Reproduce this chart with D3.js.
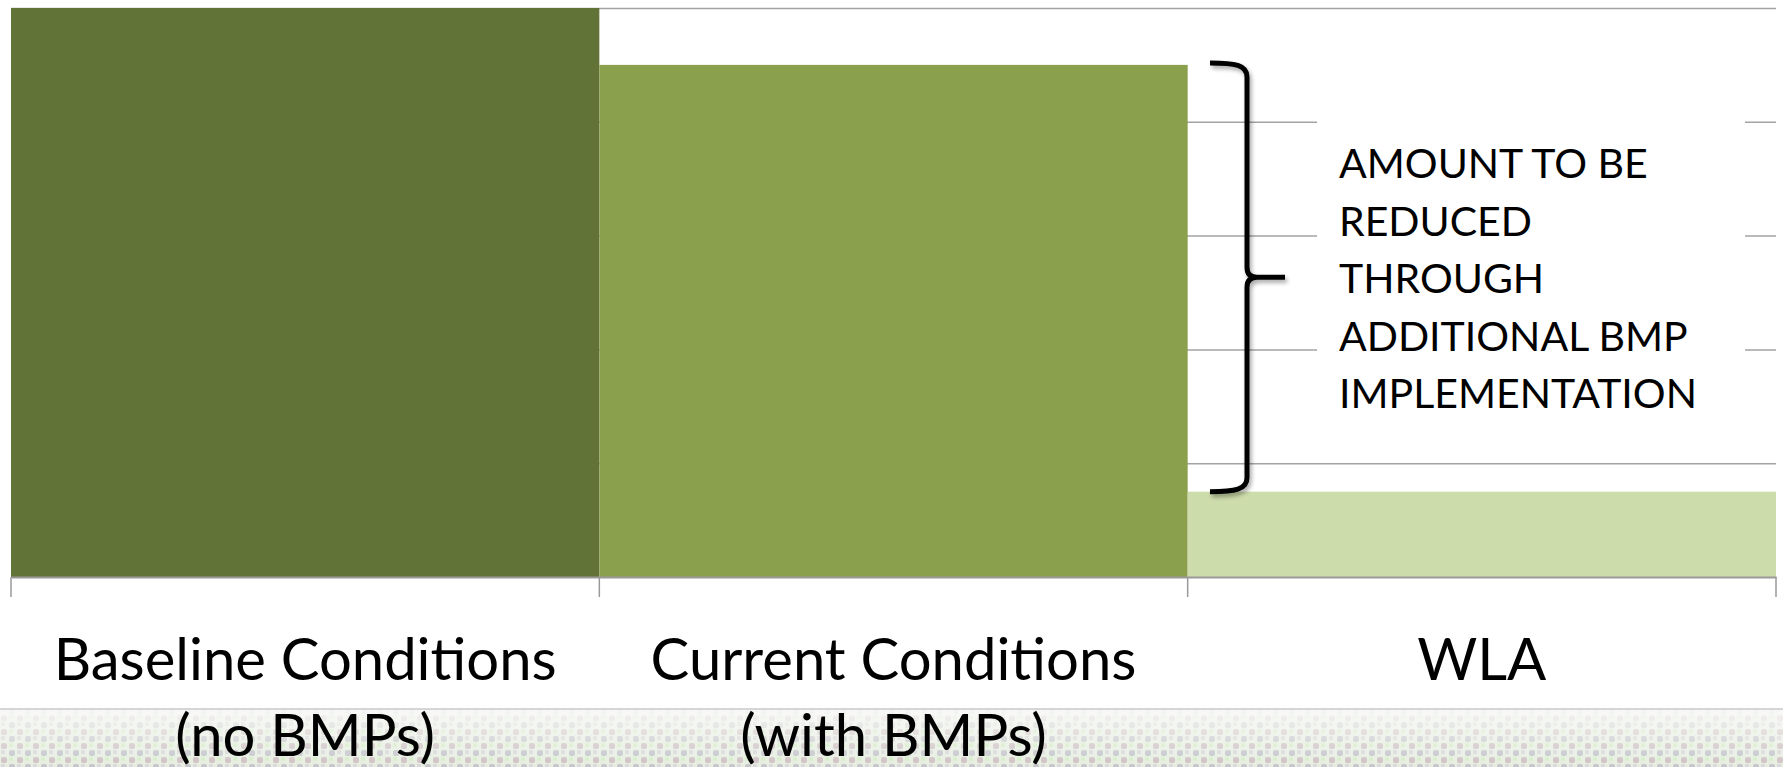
<!DOCTYPE html>
<html>
<head>
<meta charset="utf-8">
<script src="https://cdn.jsdelivr.net/npm/d3@7"></script>
<style>
  html, body { margin: 0; padding: 0; background: #ffffff; }
  svg { display: block; }
</style>
</head>
<body>
<div id="chart"></div>
<script>
// dados do grafico
const categories = ["Baseline", "Current", "WLA"];
const categoryLines = [
    ["Baseline Conditions", "(no BMPs)"],
    ["Current Conditions", "(with BMPs)"],
    ["WLA"]
];
const loads = [5, 4.5, 0.75];
const yTicks = [1, 2, 3, 4, 5];
const noteLines = ["AMOUNT TO BE", "REDUCED", "THROUGH", "ADDITIONAL BMP", "IMPLEMENTATION"];

const width = 1783, height = 767;
const margin = {left: 11, right: 7, top: 8, bottom: 190};
const fontFam = "Lato, 'Open Sans', sans-serif";

const svg = d3.select("#chart").append("svg")
    .attr("width", width)
    .attr("height", height);

const defs = svg.append("defs");

// fundo do slide (faixa com textura embaixo)
let grad = defs.append("linearGradient").attr("id", "stripGrad")
    .attr("x1", 0).attr("y1", 0).attr("x2", 0).attr("y2", 1);
grad.append("stop").attr("offset", "0%").attr("stop-color", "#f9f9f8");
grad.append("stop").attr("offset", "100%").attr("stop-color", "#e6eee0");

let fade = defs.append("linearGradient").attr("id", "fadeGrad")
    .attr("x1", 0).attr("y1", 0).attr("x2", 0).attr("y2", 1);
fade.append("stop").attr("offset", "0%").attr("stop-color", "#fff").attr("stop-opacity", 0.05);
fade.append("stop").attr("offset", "100%").attr("stop-color", "#fff").attr("stop-opacity", 1);
defs.append("mask").attr("id", "fadeMask")
    .attr("maskContentUnits", "objectBoundingBox")
    .append("rect").attr("width", 1).attr("height", 1).attr("fill", "url(#fadeGrad)");

let pat = defs.append("pattern").attr("id", "dots")
    .attr("patternUnits", "userSpaceOnUse")
    .attr("width", 16).attr("height", 14);
pat.append("rect").attr("x", 1).attr("y", 1).attr("width", 6).attr("height", 6).attr("rx", 2)
    .attr("fill", "#c9b0bc");
pat.append("rect").attr("x", 9).attr("y", 8).attr("width", 6).attr("height", 6).attr("rx", 2)
    .attr("fill", "#b9b7c4");
pat.append("rect").attr("x", 9).attr("y", 1).attr("width", 4).attr("height", 4)
    .attr("fill", "#cfeec0");
pat.append("rect").attr("x", 1).attr("y", 8).attr("width", 4).attr("height", 4)
    .attr("fill", "#d8d0dc");

let stripY = 709;
svg.append("rect")
    .attr("x", 0).attr("y", stripY).attr("width", width).attr("height", height - stripY)
    .attr("fill", "url(#stripGrad)");
svg.append("rect")
    .attr("x", 0).attr("y", stripY).attr("width", width).attr("height", height - stripY)
    .attr("fill", "url(#dots)")
    .attr("opacity", 0.75)
    .attr("mask", "url(#fadeMask)");
svg.append("line")
    .attr("x1", 0).attr("x2", width).attr("y1", stripY).attr("y2", stripY)
    .attr("stroke", "#c8c8c8").attr("stroke-width", 1.5);

// escalas
const x = d3.scaleBand()
    .domain(categories)
    .range([margin.left, width - margin.right])
    .padding(0);

const y = d3.scaleLinear()
    .domain([0, d3.max(yTicks)])
    .range([height - margin.bottom, margin.top]);

const color = d3.scaleOrdinal()
    .domain(categories)
    .range(["#617336", "#8aa04d", "#cddcab"]);

// linhas de grade
svg.append("g")
    .attr("class", "grid")
    .attr("transform", `translate(${margin.left},0)`)
    .call(d3.axisLeft(y).tickValues(yTicks).tickSize(-(width - margin.left - margin.right)).tickFormat(""))
    .call(g => g.select(".domain").remove())
    .call(g => g.selectAll("line").attr("stroke", "#a3a3a3").attr("stroke-width", 1.5));

// barras
svg.append("g")
    .selectAll("rect")
    .data(loads)
    .join("rect")
    .attr("x", (d, i) => x(categories[i]))
    .attr("y", d => y(d))
    .attr("width", x.bandwidth())
    .attr("height", d => y(0) - y(d))
    .attr("fill", (d, i) => color(categories[i]));

// eixo x
const xAxis = svg.append("g")
    .attr("transform", `translate(0,${y(0)})`)
    .call(d3.axisBottom(x).tickSize(0).tickFormat(""));
xAxis.select(".domain").attr("stroke", "#9a9a9a").attr("stroke-width", 2);

// marcas entre categorias
let bounds = categories.map(c => x(c)).concat([x(categories[categories.length - 1]) + x.bandwidth()]);
svg.append("g")
    .selectAll("line")
    .data(bounds)
    .join("line")
    .attr("x1", d => d).attr("x2", d => d)
    .attr("y1", y(0)).attr("y2", y(0) + 20)
    .attr("stroke", "#9a9a9a").attr("stroke-width", 1.5);

// rotulos das categorias
svg.append("g")
    .selectAll("text")
    .data(categoryLines)
    .join("text")
    .attr("x", (d, i) => x(categories[i]) + x.bandwidth() / 2)
    .attr("y", 680)
    .attr("text-anchor", "middle")
    .style("font-family", fontFam)
    .style("font-size", "58px")
    .attr("fill", "#000")
    .selectAll("tspan")
    .data(d => d)
    .join("tspan")
    .attr("x", function() { return this.parentNode.getAttribute("x"); })
    .attr("dy", (d, j) => j == 0 ? 0 : 76)
    .text(d => d);

// caixa branca do texto (corta as linhas de grade)
svg.append("rect")
    .attr("x", 1317).attr("y", 100)
    .attr("width", 428).attr("height", 340)
    .attr("fill", "#fff");

svg.append("g")
    .selectAll("text")
    .data(noteLines)
    .join("text")
    .attr("x", 1339)
    .attr("y", (d, i) => 178 + i * 57.5)
    .style("font-family", fontFam)
    .style("font-size", "41px")
    .attr("fill", "#000")
    .text(d => d);

// chave (brace) entre a barra atual e o WLA
let shadow = defs.append("filter").attr("id", "shadow")
    .attr("x", "-50%").attr("y", "-10%").attr("width", "200%").attr("height", "120%");
shadow.append("feDropShadow")
    .attr("dx", 2).attr("dy", 3).attr("stdDeviation", 2)
    .attr("flood-color", "#000").attr("flood-opacity", 0.35);

let braceTop = y(loads[1]) - 2;
let braceBot = y(loads[2]);
let braceMid = (braceTop + braceBot) / 2;
let bx0 = 1210, bx = 1247, tip = 1285;

let p = d3.path();
p.moveTo(bx0, braceTop);
p.bezierCurveTo(bx - 12, braceTop, bx, braceTop + 2, bx, braceTop + 14);
p.lineTo(bx, braceMid - 10);
p.quadraticCurveTo(bx, braceMid, bx + 10, braceMid);
p.lineTo(tip, braceMid);
p.moveTo(bx + 10, braceMid);
p.quadraticCurveTo(bx, braceMid, bx, braceMid + 10);
p.lineTo(bx, braceBot - 14);
p.bezierCurveTo(bx, braceBot - 2, bx - 12, braceBot, bx0, braceBot);

svg.append("path")
    .attr("d", p.toString())
    .attr("fill", "none")
    .attr("stroke", "#000")
    .attr("stroke-width", 5)
    .attr("stroke-linejoin", "round")
    .attr("filter", "url(#shadow)");
</script>
</body>
</html>
